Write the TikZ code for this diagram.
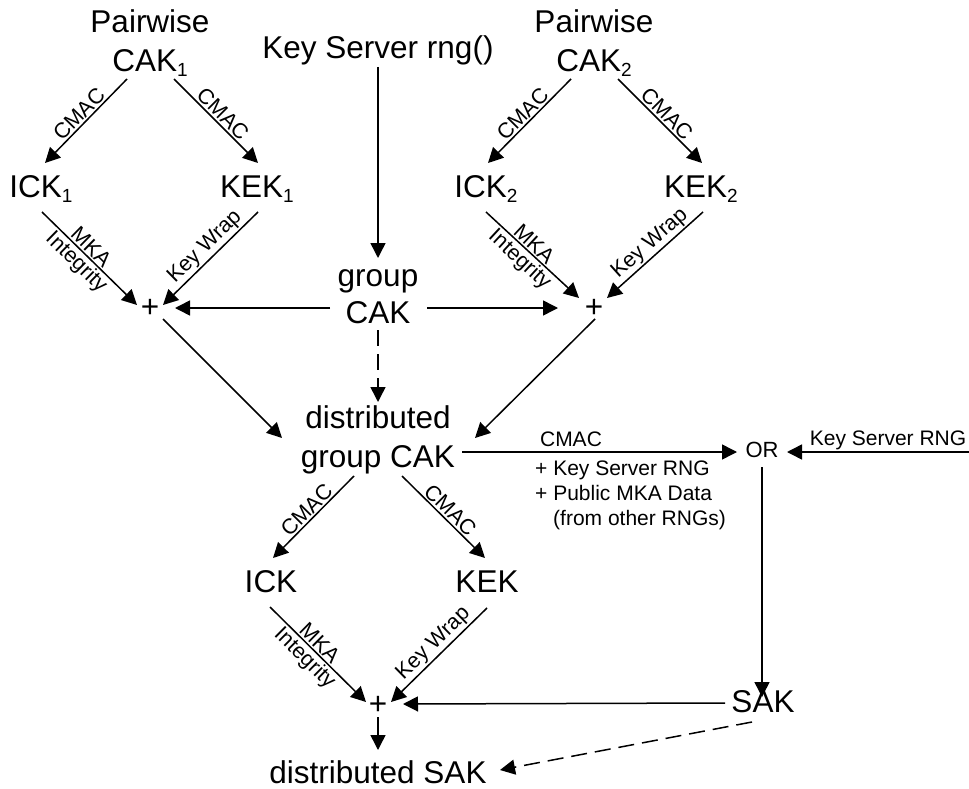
\documentclass[tikz,border=0pt]{standalone}
\usepackage{fontspec}
\setmainfont{Liberation Sans}
\usetikzlibrary{arrows.meta}
\newcommand\sbs[1]{\raisebox{-5pt}{\fontsize{19}{19}\selectfont #1}}
\begin{document}
\begin{tikzpicture}[x=1pt,y=-1pt,
  big/.style={font=\fontsize{31.5}{38}\selectfont, inner sep=0pt, anchor=base},
  small/.style={font=\fontsize{21}{25}\selectfont, inner sep=0pt, anchor=base},
  lbl/.style={font=\fontsize{21.5}{24}\selectfont, sloped, inner sep=1.5pt},
  arr/.style={line width=1.5pt, -{Triangle[length=15pt,width=15pt]}},
  darr/.style={arr, dash pattern=on 16pt off 8pt}]
\useasboundingbox (0,0) rectangle (969,789);
% nodes
\node[big] (pw1) at (150,33) {Pairwise};
\node[big] (cak1) at (150,72) {CAK\sbs{1}};
\node[big] (ksrv) at (378,59) {Key Server rng()};
\node[big] (pw2) at (594,33) {Pairwise};
\node[big] (cak2) at (594,72) {CAK\sbs{2}};
\node[big] (ick1) at (41,197) {ICK\sbs{1}};
\node[big] (kek1) at (257,197) {KEK\sbs{1}};
\node[big] (ick2) at (486,197) {ICK\sbs{2}};
\node[big] (kek2) at (701,197) {KEK\sbs{2}};
\node[big] (grpA) at (378,286) {group};
\node[big] (grpB) at (378,323) {CAK};
\node[big] (plus1) at (150,317) {+};
\node[big] (plus2) at (594,317) {+};
\node[big] (dgA) at (378,428) {distributed};
\node[big] (dgB) at (378,467) {group CAK};
\node[small, font=\fontsize{22}{26}\selectfont] (or) at (762,457) {OR};
\node[small] (ksrl) at (888,445) {Key Server RNG};
\coordinate (rin) at (969,452);
\node[small] (cmacl) at (571,446) {CMAC};
\node[small, anchor=base west] (n1) at (535,475) {+ Key Server RNG};
\node[small, anchor=base west] (n2) at (535,500) {+ Public MKA Data};
\node[small, anchor=base west] (n3) at (553,525) {(from other RNGs)};
\node[big] (ick) at (271,592) {ICK};
\node[big] (kek) at (487,592) {KEK};
\node[big] (sak) at (763,712) {SAK};
\node[big] (plus3) at (378,714) {+};
\node[big] (dsak) at (378,783) {distributed SAK};
% left diamond
\draw[arr] ([shift={(-23,7)}]cak1.base) -- node[lbl,above]{CMAC} ([shift={(4,-34)}]ick1.base);
\draw[arr] ([shift={(24,7)}]cak1.base) -- node[lbl,above]{CMAC} ([shift={(1,-34)}]kek1.base);
\draw[arr] ([shift={(1,15)}]ick1.base) -- node[lbl,above,pos=.45]{MKA} node[lbl,below,pos=.45]{Integrity} ([shift={(-13,-12)}]plus1.base);
\draw[arr] ([shift={(1,15)}]kek1.base) -- node[lbl,above,pos=.47]{Key Wrap} ([shift={(13,-12)}]plus1.base);
% right diamond
\draw[arr] ([shift={(-23,7)}]cak2.base) -- node[lbl,above]{CMAC} ([shift={(2,-34)}]ick2.base);
\draw[arr] ([shift={(24,7)}]cak2.base) -- node[lbl,above]{CMAC} ([shift={(1,-34)}]kek2.base);
\draw[arr] ([shift={(0,15)}]ick2.base) -- node[lbl,above,pos=.45]{MKA} node[lbl,below,pos=.45]{Integrity} ([shift={(-15,-19)}]plus2.base);
\draw[arr] ([shift={(2,15)}]kek2.base) -- node[lbl,above,pos=.47]{Key Wrap} ([shift={(13,-19)}]plus2.base);
% group CAK
\draw[arr] ([shift={(0,8)}]ksrv.base) -- ([shift={(0,-28)}]grpA.base);
\draw[arr] ([shift={(-48,-15)}]grpB.base) -- ([shift={(25,-9)}]plus1.base);
\draw[arr] ([shift={(49,-15)}]grpB.base) -- ([shift={(-36,-9)}]plus2.base);
\draw[darr] ([shift={(0,7)}]grpB.base) -- ([shift={(0,-26)}]dgA.base);
\draw[arr] ([shift={(13,2)}]plus1.base) -- ([shift={(-96,10)}]dgA.base);
\draw[arr] ([shift={(1,2)}]plus2.base) -- ([shift={(97,10)}]dgA.base);
% CMAC to OR
\draw[arr] ([shift={(84,-15)}]dgB.base) -- ([shift={(-25,-5)}]or.base);
\draw[arr] (rin) -- ([shift={(25,-5)}]or.base);
\draw[arr] ([shift={(0,10)}]or.base) -- ([shift={(-1,-15)}]sak.base);
% lower diamond
\draw[arr] ([shift={(-24,9)}]dgB.base) -- node[lbl,above]{CMAC} ([shift={(2,-34)}]ick.base);
\draw[arr] ([shift={(24,9)}]dgB.base) -- node[lbl,above]{CMAC} ([shift={(-2,-34)}]kek.base);
\draw[arr] ([shift={(-1,15)}]ick.base) -- node[lbl,above,pos=.45]{MKA} node[lbl,below,pos=.45]{Integrity} ([shift={(-12,-12)}]plus3.base);
\draw[arr] ([shift={(0,16)}]kek.base) -- node[lbl,above,pos=.47]{Key Wrap} ([shift={(13,-12)}]plus3.base);
\draw[arr] ([shift={(-38,-9)}]sak.base) -- ([shift={(25,-10)}]plus3.base);
\draw[arr] ([shift={(0,3)}]plus3.base) -- ([shift={(0,-33)}]dsak.base);
\draw[darr] ([shift={(-11,10)}]sak.base) -- ([shift={(122,-13)}]dsak.base);
\end{tikzpicture}
\end{document}
